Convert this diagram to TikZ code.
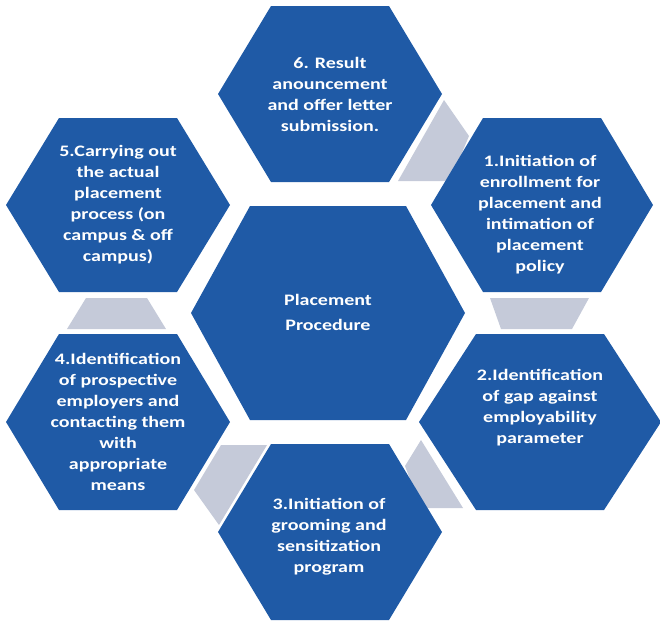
\documentclass[tikz,border=0pt]{standalone}
\usepackage{fontspec}
\setmainfont{Carlito}[FakeStretch=1.25]
\definecolor{hexblue}{RGB}{31,90,166}
\definecolor{linkgray}{RGB}{197,202,217}
\newcommand{\hexa}[5]{% cx cy halfwidth halfheight tophalfwidth
  \fill[hexblue] (#1-#3,#2) -- (#1-#5,#2-#4) -- (#1+#5,#2-#4) -- (#1+#3,#2) -- (#1+#5,#2+#4) -- (#1-#5,#2+#4) -- cycle;}
\begin{document}
\begin{tikzpicture}[x=1pt,y=-1pt,
  lbl/.style={text=white,font=\bfseries\fontsize{16}{21}\selectfont,align=center}]
\useasboundingbox (0,0) rectangle (660,624);
% connector shapes
\fill[linkgray] (444,100) -- (469,136) -- (450,181) -- (398,181) -- cycle;
\fill[linkgray] (490,298) -- (589,298) -- (572,329) -- (501,329) -- cycle;
\fill[linkgray] (86,298) -- (147,298) -- (166,329) -- (67,329) -- cycle;
\fill[linkgray] (221,445) -- (267,445) -- (219,525) -- (194,490) -- cycle;
\fill[linkgray] (421,440) -- (405,466) -- (421,508) -- (463,508) -- cycle;
% hexagons
\hexa{330}{94}{112}{88}{59}
\hexa{542}{205}{111}{87}{59}
\hexa{540}{422}{121}{88}{64}
\hexa{330}{532}{112}{88}{59}
\hexa{118}{422}{112}{88}{59}
\hexa{118}{205}{112}{87}{59}
\hexa{328}{313}{137}{107}{78}
% labels
\node[lbl] (n6) at (330,94) {6. Result\\anouncement\\and offer letter\\submission.};
\node[lbl] (n1) at (540,215) {1.Initiation of\\enrollment for\\placement and\\intimation of\\placement\\policy};
\node[lbl] (n2) at (540,408) {2.Identification\\of gap against\\employability\\parameter};
\node[lbl] (n3) at (329,537) {3.Initiation of\\grooming and\\sensitization\\program};
\node[lbl] (n4) at (118,422) {4.Identification\\of prospective\\employers and\\contacting them\\with\\appropriate\\means};
\node[lbl] (n5) at (118,205) {5.Carrying out\\the actual\\placement\\process (on\\campus \& off\\campus)};
\node[lbl] (c) at (328,312) {Placement\\[4pt]Procedure};
\end{tikzpicture}
\end{document}
